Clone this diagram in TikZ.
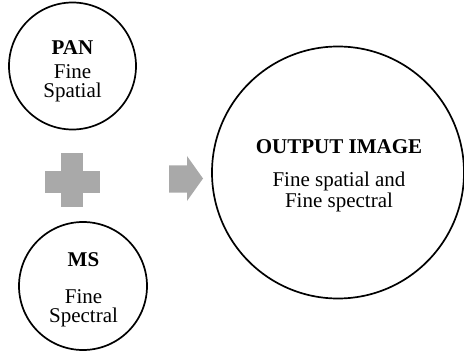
\documentclass[tikz,border=0pt]{standalone}
\usepackage{fontspec}
\setmainfont{Liberation Serif}
\usetikzlibrary{positioning}
\definecolor{CGray}{HTML}{A9A9A9}
\definecolor{CInk}{HTML}{000000}

\begin{document}
\begin{tikzpicture}[x=1pt, y=1pt,
    bubble/.style={circle, draw=CInk, line width=1.7pt, inner sep=0pt},
    caption/.style={align=center, inner sep=0pt, anchor=north, font=\fontsize{21}{19}\selectfont}]
    \useasboundingbox (0,0) rectangle (464,-353);

    % Input images
    \node[bubble, minimum size=127pt] (pan) at (72.5,-66) {};
    \node[caption] (pantext) at ([yshift=25.6pt]pan.center) {\textbf{PAN}\\[5pt]Fine\\Spatial};

    \node[bubble, minimum size=128pt] (ms) at (83,-286) {};
    \node[caption] (mstext) at ([xshift=0.5pt, yshift=33.2pt]ms.center) {\textbf{MS}\\[17.6pt]Fine\\Spectral};

    % Plus sign
    \fill[CGray] (45,-171.5) rectangle (100,-192.5);
    \fill[CGray] (61,-153) rectangle (83,-207);

    % Arrow
    \fill[CGray] (169,-165.5) -- (187,-165.5) -- (187,-156) -- (203,-178.5)
        -- (187,-201) -- (187,-192.5) -- (169,-192.5) -- cycle;

    % Fused output
    \node[bubble, minimum size=252pt] (out) at (338,-172.5) {};
    \node[caption, font=\fontsize{21}{21}\selectfont] (outtext) at ([xshift=1pt, yshift=33.4pt]out.center)
        {\textbf{OUTPUT IMAGE}\\[12pt]Fine spatial and\\Fine spectral};
\end{tikzpicture}
\end{document}
